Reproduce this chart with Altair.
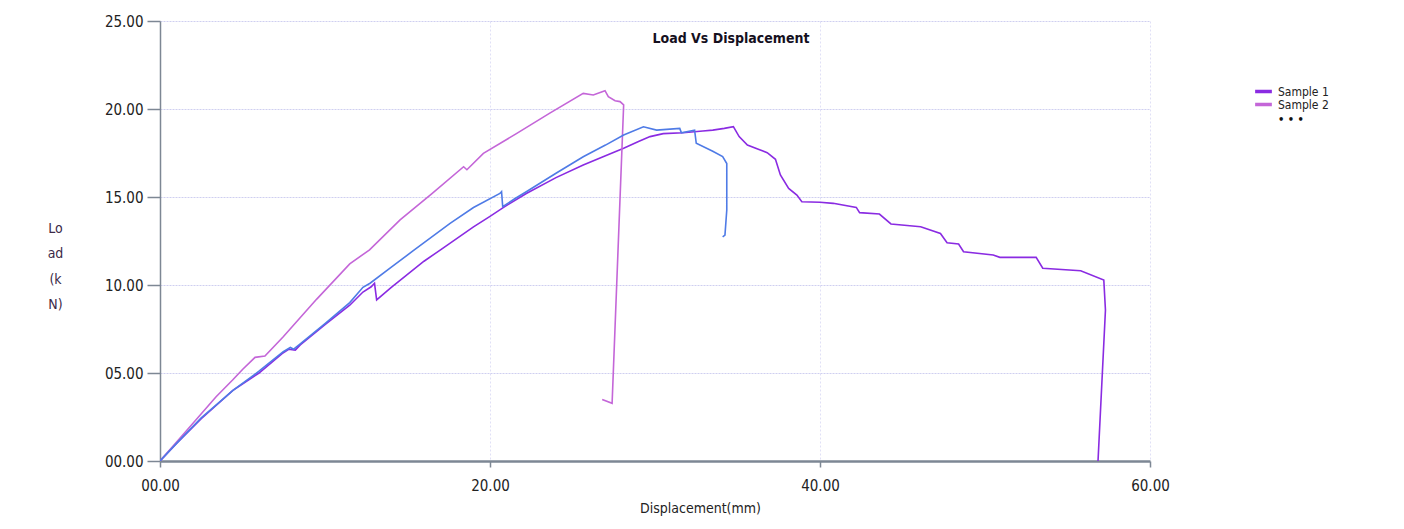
import altair as alt
import pandas as pd

# ---- data ----
series_names = ["Sample 1", "Sample 2", "Sample 3"]
series_colors = ["#8a2be2", "#c466d8", "#4f7be6"]

s1_x = [0, 1.0, 2.5, 4.4, 6.0, 7.4, 7.8, 8.2, 8.5, 10.0, 11.5, 12.3, 12.8, 13.0, 13.13,
        14.0, 15.0, 16.0, 17.0, 18.0, 19.0, 20.0, 20.8, 22.2, 24.0, 25.65, 27.0, 28.1,
        29.0, 29.7, 30.5, 31.7, 32.9, 33.5, 34.2, 34.75, 35.1, 35.6, 36.3, 36.8, 37.3,
        37.6, 38.1, 38.6, 38.9, 40.0, 40.8, 42.2, 42.4, 43.6, 44.3, 46.1, 47.3, 47.7,
        48.4, 48.7, 50.5, 50.9, 53.1, 53.5, 55.8, 57.2, 57.3, 56.85]
s1_y = [0, 1.0, 2.4, 4.0, 5.0, 6.1, 6.35, 6.3, 6.6, 7.75, 8.85, 9.6, 9.9, 10.1, 9.15,
        9.85, 10.6, 11.35, 12.0, 12.65, 13.3, 13.9, 14.4, 15.2, 16.1, 16.82, 17.35, 17.77,
        18.15, 18.43, 18.6, 18.65, 18.75, 18.8, 18.9, 19.0, 18.43, 17.95, 17.7, 17.52, 17.14,
        16.25, 15.49, 15.11, 14.73, 14.7, 14.64, 14.41, 14.11, 14.03, 13.47, 13.31, 12.93, 12.4,
        12.33, 11.89, 11.7, 11.57, 11.57, 10.95, 10.81, 10.28, 8.58, 0.0]

s2_x = [0, 2.0, 3.4, 4.4, 5.0, 5.76, 6.36, 7.47, 9.5, 11.5, 12.7, 14.55, 16.5, 18.4, 18.6,
        19.6, 21.6, 23.6, 25.65, 26.26, 26.97, 27.17, 27.58, 27.88, 28.1, 27.4, 26.8]
s2_y = [0, 2.14, 3.65, 4.6, 5.2, 5.89, 5.97, 7.06, 9.2, 11.2, 12.0, 13.7, 15.2, 16.72, 16.55,
        17.48, 18.6, 19.75, 20.89, 20.8, 21.04, 20.7, 20.47, 20.42, 20.23, 3.28, 3.5]

s3_x = [0, 1.0, 2.5, 4.44, 6.0, 7.47, 7.9, 8.1, 8.5, 10.0, 11.5, 12.3, 12.73, 14.0, 15.35,
        17.58, 19.0, 20.6, 20.7, 20.77, 21.5, 22.2, 24.0, 25.65, 27.0, 28.1, 29.3, 30.1,
        31.5, 31.6, 32.4, 32.5, 33.5, 34.1, 34.35, 34.35, 34.24, 34.1]
s3_y = [0, 1.0, 2.45, 4.03, 5.1, 6.21, 6.45, 6.35, 6.65, 7.8, 9.0, 9.87, 10.1, 11.0, 11.95,
        13.5, 14.4, 15.2, 15.3, 14.45, 14.9, 15.3, 16.35, 17.29, 17.95, 18.52, 18.99, 18.8,
        18.9, 18.65, 18.8, 18.05, 17.6, 17.3, 16.9, 14.26, 12.84, 12.74]

x_ticks = [0, 20, 40, 60]
y_ticks = [0, 5, 10, 15, 20, 25]

rows = []
for name, xs, ys in [("Sample 1", s1_x, s1_y), ("Sample 2", s2_x, s2_y), ("Sample 3", s3_x, s3_y)]:
    for i, (xv, yv) in enumerate(zip(xs, ys)):
        rows.append({"series": name, "x": xv, "y": yv, "order": i})
df = pd.DataFrame(rows)

FONT = "Liberation Sans Narrow, DejaVu Sans Condensed, Arial Narrow, sans-serif"

chart = alt.Chart(df).mark_line(strokeWidth=1.6, clip=True).encode(
    x=alt.X("x:Q",
            scale=alt.Scale(domain=[0, 60], nice=False),
            axis=alt.Axis(values=x_ticks, format="05.2f", title="Displacement(mm)",
                          domainColor="#7d8794", domainWidth=2.5,
                          tickColor="#7d8794", tickSize=6, tickWidth=1.5,
                          labelFont=FONT, labelFontSize=15, labelColor="#222222",
                          labelPadding=11, labelFlush=False,
                          titleFont=FONT, titleFontSize=14, titleFontWeight="normal",
                          titleColor="#222222", titleX=540, titleY=47,
                          titleBaseline="middle", titleAnchor="middle",
                          grid=True, gridColor="#e0e0f6", gridDash=[2, 2], gridWidth=1)),
    y=alt.Y("y:Q",
            scale=alt.Scale(domain=[0, 25], nice=False),
            axis=alt.Axis(values=y_ticks, format="05.2f", title=["Lo", "ad", "(k", "N)"],
                          domainColor="#7d8794", domainWidth=1.5,
                          tickColor="#7d8794", tickSize=13, tickWidth=1.5,
                          labelFont=FONT, labelFontSize=15, labelColor="#222222",
                          labelPadding=4,
                          titleFont=FONT, titleFontSize=14, titleFontWeight="normal",
                          titleColor="#3c2a48", titleAngle=0, titleAlign="center",
                          titleBaseline="top", titleX=-105, titleY=200, titleLineHeight=25.5,
                          grid=True, gridColor="#cfcff0", gridDash=[2, 1], gridWidth=1)),
    color=alt.Color("series:N",
                    scale=alt.Scale(domain=series_names, range=series_colors),
                    legend=alt.Legend(orient="none", legendX=1093, legendY=64,
                                      values=["Sample 1", "Sample 2"],
                                      title="• • •", titleOrient="bottom", titleAnchor="middle",
                                      titleFont=FONT, titleFontSize=11, titleFontWeight="bold",
                                      titleColor="#111111", titlePadding=3,
                                      symbolType="stroke", symbolStrokeWidth=3.5, symbolSize=280,
                                      labelFont=FONT, labelFontSize=12, labelColor="#222222",
                                      labelOffset=4, rowPadding=0, clipHeight=13)),
    order="order:Q",
).properties(
    width=990,
    height=440,
    title=alt.TitleParams("Load Vs Displacement", font=FONT, fontSize=14, fontWeight="bold",
                          color="#15101e", anchor="middle", dx=76, dy=36),
    autosize="none",
    padding={"left": 152, "top": 13, "right": 240, "bottom": 58},
).configure(
    background="white"
).configure_view(
    stroke=None
)

chart.save("out.html", embed_options={"renderer": "svg", "actions": False})
